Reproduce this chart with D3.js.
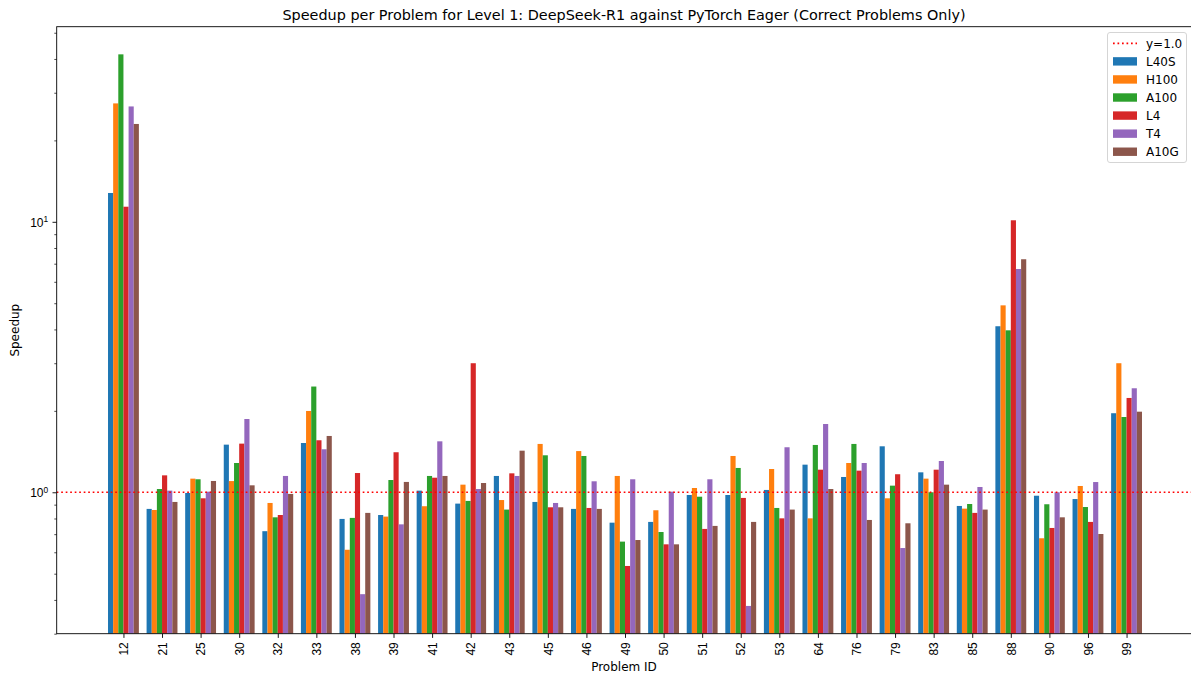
<!DOCTYPE html>
<html>
<head>
<meta charset="utf-8">
<script src="https://cdn.jsdelivr.net/npm/d3@7"></script>
<style>
  html, body { margin: 0; padding: 0; background: #fff; }
  svg { display: block; font-family: "DejaVu Sans", sans-serif; }
</style>
</head>
<body>
<svg id="chart" width="1191" height="675"></svg>
<script>
const problems = ["12","21","25","30","32","33","38","39","41","42","43","45","46","49","50","51","52","53","64","76","79","83","85","88","90","96","99"];
const seriesNames = ["L40S","H100","A100","L4","T4","A10G"];
const L40S = [12.78,0.868,0.994,1.50,0.718,1.521,0.797,0.824,1.014,0.908,1.149,0.921,0.868,0.772,0.777,0.977,0.977,1.02,1.265,1.139,1.479,1.185,0.89,4.11,0.971,0.944,1.96];
const H100 = [27.4,0.860,1.123,1.10,0.913,1.998,0.613,0.813,0.888,1.067,0.936,1.509,1.42,1.149,0.858,1.037,1.362,1.219,0.801,1.283,0.95,1.123,0.87,4.91,0.676,1.055,3.0];
const A100 = [41.6,1.028,1.117,1.283,0.808,2.46,0.804,1.11,1.149,0.929,0.863,1.37,1.362,0.657,0.713,0.963,1.23,0.875,1.496,1.509,1.058,1.0,0.905,3.97,0.903,0.882,1.898];
const L4 = [11.37,1.155,0.95,1.513,0.824,1.557,1.178,1.406,1.132,3.0,1.175,0.88,0.875,0.534,0.642,0.732,0.953,0.801,1.212,1.202,1.166,1.212,0.839,10.13,0.738,0.777,2.232];
const T4 = [26.7,1.014,1.005,1.866,1.149,1.442,0.42,0.761,1.543,1.028,1.149,0.913,1.098,1.117,1.005,1.117,0.38,1.467,1.788,1.283,0.622,1.305,1.046,6.69,1.0,1.091,2.424];
const A10G = [23.0,0.921,1.101,1.061,0.986,1.615,0.839,1.092,1.149,1.082,1.425,0.88,0.868,0.666,0.642,0.751,0.777,0.863,1.028,0.79,0.768,1.067,0.863,7.27,0.808,0.701,1.986];
const seriesValues = [L40S, H100, A100, L4, T4, A10G];
const colors = ["#1f77b4","#ff7f0e","#2ca02c","#d62728","#9467bd","#8c564b"];
const majorTicks = [1, 10];
const minorTicks = [0.3,0.4,0.5,0.6,0.7,0.8,0.9,2,3,4,5,6,7,8,9,20,30,40,50];
const refValue = 1.0;
const title = "Speedup per Problem for Level 1: DeepSeek-R1 against PyTorch Eager (Correct Problems Only)";

const svg = d3.select("#chart");
const L = 56.7, R = 1193.3, T = 26.7, B = 633.7;
const nS = seriesNames.length;
const groupW = 0.8, barW = groupW / nS;
const fs = 12;

const x = d3.scaleLinear().domain([-1.73, problems.length - 1 + 1.73]).range([L, R]);
const y = d3.scaleLog().domain([0.3, 52.64]).range([B, T]);

const defs = svg.append("defs");
defs.append("clipPath").attr("id", "clip").append("rect")
  .attr("x", L).attr("y", T).attr("width", R - L).attr("height", B - T);

// bars
const plot = svg.append("g").attr("clip-path", "url(#clip)");
seriesValues.forEach((vals, s) => {
  plot.append("g").selectAll("rect").data(vals).join("rect")
    .attr("x", (d, i) => x(i - groupW / 2 + s * barW))
    .attr("width", x(barW) - x(0))
    .attr("y", d => y(d))
    .attr("height", d => B - y(d))
    .attr("fill", colors[s]);
});

// reference line
plot.append("line")
  .attr("x1", L).attr("x2", R).attr("y1", y(refValue)).attr("y2", y(refValue))
  .attr("stroke", "#ff0000").attr("stroke-width", 1.7)
  .attr("stroke-dasharray", "1.7 2.8");

// axes
const xAxis = d3.axisBottom(x).tickValues(d3.range(problems.length))
  .tickFormat(i => problems[i]).tickSize(4.2).tickPadding(4.2);
const gx = svg.append("g").attr("transform", `translate(0,${B})`).call(xAxis);
gx.select(".domain").remove();
gx.selectAll(".tick line").attr("stroke", "#000").attr("stroke-width", 0.9);
gx.selectAll(".tick text")
  .attr("font-size", fs + "px").attr("fill", "#000")
  .attr("transform", "rotate(-90)")
  .attr("x", -8.5).attr("y", 0).attr("dy", "0.35em")
  .attr("text-anchor", "end");

const yAxisMajor = d3.axisLeft(y).tickValues(majorTicks).tickSize(4.2).tickPadding(4.2).tickFormat("");
const gy = svg.append("g").attr("transform", `translate(${L},0)`).call(yAxisMajor);
gy.select(".domain").remove();
gy.selectAll(".tick line").attr("stroke", "#000").attr("stroke-width", 0.9);
gy.selectAll(".tick").each(function(d) {
  const t = d3.select(this).append("text")
    .attr("x", -8.5).attr("y", 0).attr("dy", "0.35em")
    .attr("text-anchor", "end").attr("fill", "#000").attr("font-size", fs + "px");
  t.append("tspan").text("10");
  t.append("tspan").attr("font-size", "8.4px").attr("dy", "-0.5em").text(String(Math.round(Math.log10(d))));
});
const yAxisMinor = d3.axisLeft(y).tickValues(minorTicks).tickSize(2.4).tickFormat("");
const gym = svg.append("g").attr("transform", `translate(${L},0)`).call(yAxisMinor);
gym.select(".domain").remove();
gym.selectAll(".tick line").attr("stroke", "#000").attr("stroke-width", 0.7);

// spines
svg.append("rect").attr("x", L).attr("y", T).attr("width", R - L).attr("height", B - T)
  .attr("fill", "none").attr("stroke", "#000").attr("stroke-width", 0.9);

// labels
svg.append("text").attr("x", (L + R) / 2 - 1).attr("y", 20)
  .attr("text-anchor", "middle").attr("font-size", "14.4px").attr("fill", "#000").text(title);
svg.append("text").attr("x", (L + R) / 2 - 1).attr("y", 671)
  .attr("text-anchor", "middle").attr("font-size", fs + "px").attr("fill", "#000").text("Problem ID");
svg.append("text").attr("transform", `translate(19,${(T + B) / 2}) rotate(-90)`)
  .attr("text-anchor", "middle").attr("font-size", fs + "px").attr("fill", "#000").text("Speedup");

// legend
const lg = svg.append("g");
lg.append("rect").attr("x", 1107.5).attr("y", 32.5).attr("width", 79).attr("height", 130)
  .attr("rx", 2.5).attr("fill", "#fff").attr("fill-opacity", 0.8)
  .attr("stroke", "#d0d0d0").attr("stroke-width", 0.9);
const rowY0 = 43.3, rowDy = 18.07;
lg.append("line").attr("x1", 1113).attr("x2", 1137).attr("y1", rowY0).attr("y2", rowY0)
  .attr("stroke", "#ff0000").attr("stroke-width", 1.7).attr("stroke-dasharray", "1.7 2.8");
lg.append("text").attr("x", 1146).attr("y", rowY0).attr("dy", "0.35em")
  .attr("font-size", fs + "px").attr("fill", "#000").text("y=" + refValue.toFixed(1));
seriesNames.forEach((n, s) => {
  const cy = rowY0 + (s + 1) * rowDy;
  lg.append("rect").attr("x", 1113).attr("y", cy - 4.2).attr("width", 24).attr("height", 8.4)
    .attr("fill", colors[s]);
  lg.append("text").attr("x", 1146).attr("y", cy).attr("dy", "0.35em")
    .attr("font-size", fs + "px").attr("fill", "#000").text(n);
});
</script>
</body>
</html>
